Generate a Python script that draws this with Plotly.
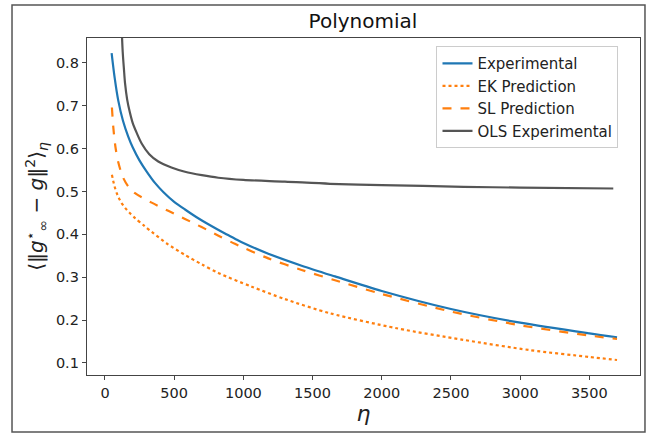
import plotly.graph_objects as go

# Experimental
exp_x = [48, 70, 96, 130, 168, 200, 250, 300, 361, 421, 500, 578, 662, 750, 867, 939, 1000, 1180, 1421, 1662, 2000, 2500, 3000, 3500, 3700]
exp_y = [0.823, 0.765, 0.712, 0.665, 0.628, 0.603, 0.572, 0.547, 0.520, 0.499, 0.476, 0.458, 0.440, 0.423, 0.402, 0.390, 0.380, 0.355, 0.327, 0.302, 0.268, 0.226, 0.194, 0.169, 0.160]

# EK Prediction
ek_x = [50, 60, 70, 85, 100, 120, 145, 175, 217, 280, 337, 450, 578, 700, 819, 1060, 1300, 1626, 2108, 2589, 3071, 3500, 3700]
ek_y = [0.539, 0.524, 0.511, 0.496, 0.485, 0.473, 0.462, 0.451, 0.438, 0.421, 0.406, 0.378, 0.352, 0.330, 0.310, 0.278, 0.249, 0.216, 0.181, 0.154, 0.130, 0.114, 0.107]

# SL Prediction
sl_x = [50, 60, 75, 96, 130, 168, 217, 337, 457, 578, 698, 820, 939, 1180, 1421, 1662, 2000, 2500, 3000, 3500, 3700]
sl_y = [0.696, 0.650, 0.605, 0.568, 0.533, 0.512, 0.496, 0.474, 0.455, 0.436, 0.417, 0.397, 0.378, 0.344, 0.317, 0.293, 0.261, 0.220, 0.188, 0.164, 0.156]

# OLS Experimental
ols_x = [118, 128, 137, 145, 160, 180, 200, 230, 265, 320, 385, 480, 578, 700, 819, 1000, 1300, 1626, 2000, 2589, 3000, 3673]
ols_y = [0.900, 0.826, 0.785, 0.752, 0.715, 0.684, 0.660, 0.636, 0.612, 0.587, 0.570, 0.556, 0.546, 0.538, 0.532, 0.527, 0.523, 0.518, 0.515, 0.511, 0.509, 0.507]

x_ticks = [0, 500, 1000, 1500, 2000, 2500, 3000, 3500]
y_ticks = [0.1, 0.2, 0.3, 0.4, 0.5, 0.6, 0.7, 0.8]

fig = go.Figure()
fig.add_trace(go.Scatter(x=exp_x, y=exp_y, mode="lines", name="Experimental",
                         line=dict(color="#1f77b4", width=2.2, shape="spline", smoothing=0.8)))
fig.add_trace(go.Scatter(x=ek_x, y=ek_y, mode="lines", name="EK Prediction",
                         line=dict(color="#ff7f0e", width=2.2, dash="dot", shape="spline", smoothing=0.8)))
fig.add_trace(go.Scatter(x=sl_x, y=sl_y, mode="lines", name="SL Prediction",
                         line=dict(color="#ff7f0e", width=2.2, dash="dash", shape="spline", smoothing=0.8)))
fig.add_trace(go.Scatter(x=ols_x, y=ols_y, mode="lines", name="OLS Experimental",
                         line=dict(color="#555555", width=2.2, shape="spline", smoothing=0.8)))

font = "DejaVu Sans, Arial, sans-serif"
axis_common = dict(showline=True, linecolor="#444", linewidth=1.3, mirror=True,
                   ticks="outside", ticklen=4, tickcolor="#444", showgrid=False,
                   zeroline=False, tickfont=dict(family=font, size=14.5, color="#222"))

fig.update_layout(
    width=651, height=433,
    margin=dict(l=87, r=11, t=38, b=58),
    paper_bgcolor="white", plot_bgcolor="white",
    title=dict(text="Polynomial", x=0.5575, xanchor="center", y=0.952, yanchor="middle",
               font=dict(family=font, size=20, color="#111")),
    xaxis=dict(range=[-130, 3866], tickvals=x_ticks,
               title=dict(text="<i>η</i>", font=dict(family=font, size=22, color="#222"), standoff=2),
               **axis_common),
    yaxis=dict(range=[0.072, 0.858], tickvals=y_ticks, tickformat=".1f",
               title=dict(text="⟨‖<i>g</i><sup>⋆</sup><sub>∞</sub> − <i>g</i>‖<sup>2</sup>⟩<sub><i>η</i></sub>",
                          font=dict(family=font, size=20, color="#222"), standoff=6),
               **axis_common),
    legend=dict(x=0.632, y=0.976, xanchor="left", yanchor="top",
                bordercolor="#cccccc", borderwidth=1, bgcolor="rgba(255,255,255,0.9)",
                font=dict(family=font, size=15, color="#222"), tracegroupgap=0,
                itemwidth=30),
    showlegend=True,
)

fig.add_shape(type="rect", xref="paper", yref="paper",
              x0=-0.1356, x1=1.009, y0=-0.169, y1=1.098,
              line=dict(color="#555", width=1.5), fillcolor="rgba(0,0,0,0)", layer="above")

fig.write_html("out.html")
